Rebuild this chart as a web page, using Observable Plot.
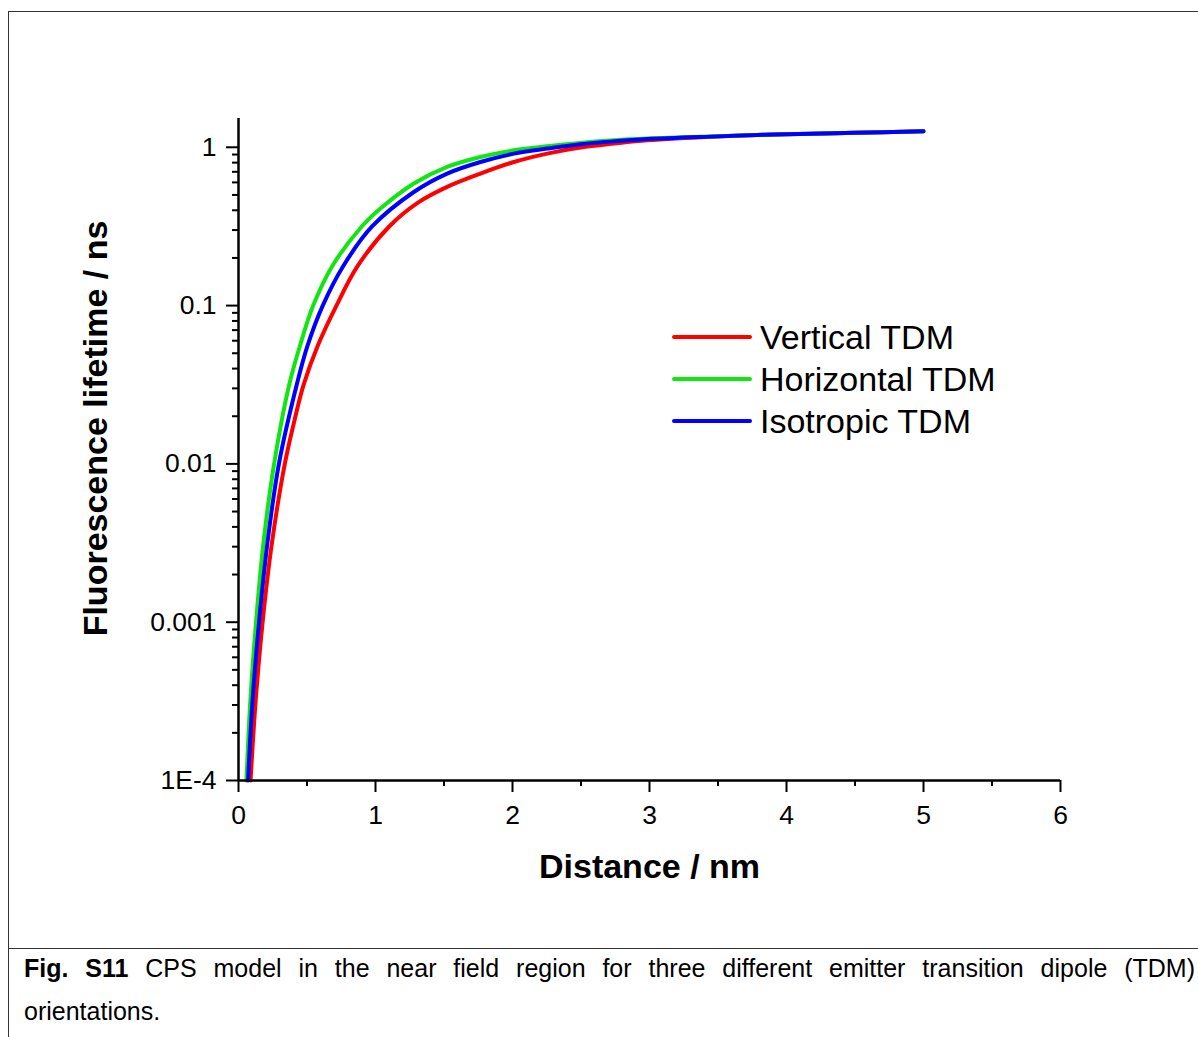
<!DOCTYPE html>
<html>
<head>
<meta charset="utf-8">
<script src="https://cdn.jsdelivr.net/npm/d3@7"></script>
<script src="https://cdn.jsdelivr.net/npm/@observablehq/plot@0.6"></script>
<style>
  html, body { margin: 0; padding: 0; background: #fff; width: 1198px; height: 1037px; overflow: hidden; }
  #page { position: relative; width: 1198px; height: 1037px; font-family: Arial, "Liberation Sans", sans-serif; }
  #chart { position: absolute; left: 0; top: 0; }
  .border-top { position: absolute; left: 8px; top: 11px; width: 1200px; height: 0; border-top: 1.5px solid #333; }
  .border-left { position: absolute; left: 8px; top: 11px; width: 0; height: 1040px; border-left: 1.5px solid #333; }
  .border-sep { position: absolute; left: 8px; top: 948px; width: 1200px; height: 0; border-top: 1.5px solid #333; }
  #legend { position: absolute; left: 672px; top: 316px; }
  .lg-row { position: relative; height: 42px; display: flex; align-items: center; }
  .lg-row svg { display: block; }
  .lg-row span { font-size: 34px; color: #000; margin-left: 8px; line-height: 42px; white-space: nowrap; }
  #caption { position: absolute; left: 24px; top: 949px; width: 1171px; font-family: "Liberation Sans Narrow", "Arial Narrow", Arial, "Liberation Sans", sans-serif; font-size: 25px; color: #000; }
  #caption .l1 { text-align: justify; text-align-last: justify; height: 38px; line-height: 38px; }
  #caption .l2 { line-height: 48px; }
</style>
</head>
<body>
<div id="page">
  <div id="chart"></div>
  <div class="border-top"></div>
  <div class="border-left"></div>
  <div class="border-sep"></div>
  <div id="legend"></div>
  <div id="caption">
    <div class="l1"><b>Fig. S11</b> CPS model in the near field region for three different emitter transition dipole (TDM)</div>
    <div class="l2">orientations.</div>
  </div>
</div>
<script>
// ---- data ----
const seriesNames = ["Vertical TDM", "Horizontal TDM", "Isotropic TDM"];
const seriesColors = ["#ff0000", "#11e611", "#0000ff"];

const verticalDistance = [0.088, 0.125, 0.176, 0.244, 0.338, 0.402, 0.475, 0.58, 0.715, 0.87, 1.10, 1.31, 1.523, 1.766, 2.01, 2.253, 2.496, 2.74, 2.983, 3.5, 4.0, 4.5, 5.0];
const verticalLifetime = [1e-4, 3.16e-4, 1e-3, 3.16e-3, 0.01, 0.0178, 0.0316, 0.0562, 0.1, 0.178, 0.316, 0.447, 0.562, 0.682, 0.807, 0.912, 0.996, 1.055, 1.107, 1.17, 1.21, 1.235, 1.262];

const horizontalDistance = [0.058, 0.086, 0.128, 0.182, 0.26, 0.37, 0.45, 0.545, 0.685, 0.90, 1.036, 1.28, 1.523, 1.766, 2.01, 2.253, 2.496, 2.74, 2.983, 3.5, 4.0, 4.5, 5.0];
const horizontalLifetime = [1e-4, 3.16e-4, 1e-3, 3.16e-3, 0.01, 0.0316, 0.0562, 0.1, 0.178, 0.316, 0.41, 0.59, 0.751, 0.868, 0.957, 1.015, 1.065, 1.107, 1.135, 1.175, 1.21, 1.235, 1.262];

const isotropicDistance = [0.07, 0.102, 0.150, 0.211, 0.295, 0.425, 0.505, 0.615, 0.765, 0.975, 1.28, 1.523, 1.766, 2.01, 2.253, 2.496, 2.74, 2.983, 3.5, 4.0, 4.5, 5.0];
const isotropicLifetime = [1e-4, 3.16e-4, 1e-3, 3.16e-3, 0.01, 0.0316, 0.0562, 0.1, 0.178, 0.316, 0.522, 0.682, 0.807, 0.912, 0.981, 1.045, 1.091, 1.128, 1.172, 1.21, 1.235, 1.262];

const xTicks = [0, 1, 2, 3, 4, 5, 6];
const xMinorTicks = [0.5, 1.5, 2.5, 3.5, 4.5, 5.5];
const yTicks = [1e-4, 1e-3, 1e-2, 1e-1, 1];
const yTickLabels = ["1E-4", "0.001", "0.01", "0.1", "1"];
const xDomain = [0, 6];
const yDomain = [1e-4, 1.52];

// ---- build table ----
function toRows(name, xs, ys) { return xs.map((d, i) => ({series: name, distance: d, lifetime: ys[i]})); }
const rows = [
  ...toRows(seriesNames[0], verticalDistance, verticalLifetime),
  ...toRows(seriesNames[1], horizontalDistance, horizontalLifetime),
  ...toRows(seriesNames[2], isotropicDistance, isotropicLifetime)
];
const yMinorTicks = [];
for (let e = -4; e <= 0; e++) for (let m = 2; m <= 9; m++) { const v = m * Math.pow(10, e); if (v < yDomain[1]) yMinorTicks.push(v); }
const labelOf = v => yTickLabels[yTicks.indexOf(v)];

const lineMarks = seriesNames.map((name, i) =>
  Plot.line(rows.filter(r => r.series === name), {
    x: "distance", y: "lifetime", stroke: seriesColors[i], strokeWidth: 4,
    curve: "catmull-rom", strokeLinecap: "round", strokeLinejoin: "round"
  })
);

const chart = Plot.plot({
  width: 1198, height: 948,
  marginLeft: 238, marginRight: 138, marginTop: 118, marginBottom: 168,
  style: {fontFamily: "Arial, 'Liberation Sans', sans-serif", background: "transparent", color: "#000"},
  x: {domain: xDomain},
  y: {type: "log", domain: yDomain},
  marks: [
    ...lineMarks,
    Plot.axisX({ticks: xMinorTicks, tickSize: 6, tickFormat: () => "", strokeWidth: 2, label: null}),
    Plot.axisX({ticks: xTicks, tickSize: 12, tickPadding: 13, fontSize: 26.5, strokeWidth: 2, tickFormat: d => String(d), label: null}),
    Plot.axisY({ticks: yMinorTicks, tickSize: 6, tickFormat: () => "", strokeWidth: 2, label: null}),
    Plot.axisY({ticks: yTicks, tickSize: 12, tickPadding: 10, fontSize: 26.5, strokeWidth: 2, tickFormat: labelOf, label: null}),
    Plot.ruleX([xDomain[0]], {strokeWidth: 2.5}),
    Plot.ruleY([yDomain[0]], {strokeWidth: 2.5}),
    Plot.text(["Distance / nm"], {text: d => d, frameAnchor: "bottom", dy: 97, fontSize: 34, fontWeight: "bold"}),
    Plot.text(["Fluorescence lifetime / ns"], {text: d => d, frameAnchor: "left", textAnchor: "middle", rotate: -90, dx: -142, dy: -21, fontSize: 34, fontWeight: "bold"})
  ]
});
document.getElementById("chart").appendChild(chart);

// ---- legend ----
const legend = document.getElementById("legend");
seriesNames.forEach((name, i) => {
  const row = document.createElement("div");
  row.className = "lg-row";
  row.innerHTML = `<svg width="80" height="10"><line x1="2" y1="5" x2="78" y2="5" stroke="${seriesColors[i]}" stroke-width="4" stroke-linecap="round"/></svg><span>${name}</span>`;
  legend.appendChild(row);
});
</script>
</body>
</html>
